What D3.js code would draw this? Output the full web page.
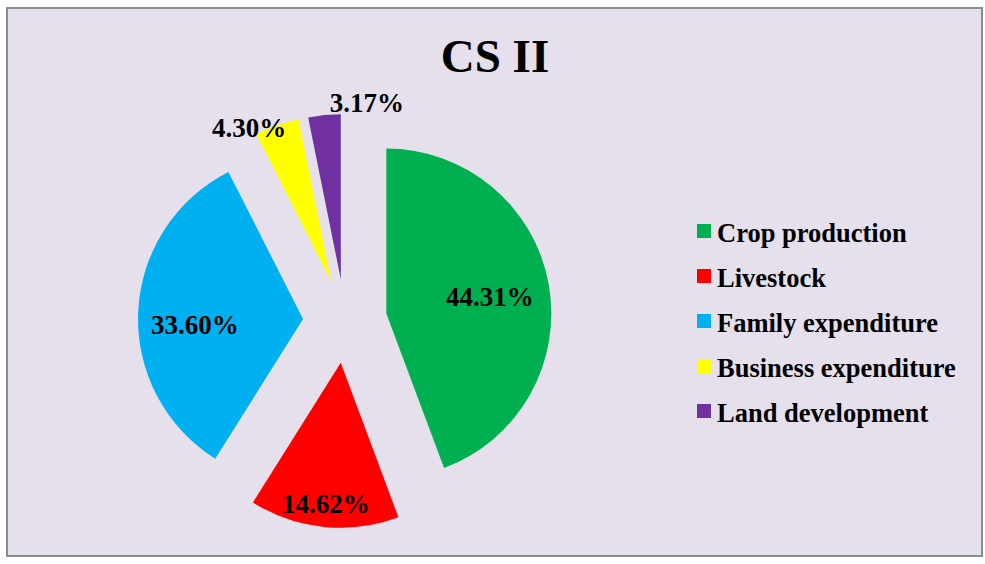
<!DOCTYPE html>
<html>
<head>
<meta charset="utf-8">
<script src="https://cdn.jsdelivr.net/npm/d3@7"></script>
<style>
  html, body { margin: 0; padding: 0; background: #ffffff; }
  svg { display: block; }
  text { font-family: "Liberation Serif", "Times New Roman", serif; font-weight: bold; fill: #000; }
</style>
</head>
<body>
<svg id="chart" width="985" height="564"></svg>
<script>
// ---- data ----
const title = "CS II";
const categories = ["Crop production", "Livestock", "Family expenditure", "Business expenditure", "Land development"];
const values = [44.31, 14.62, 33.60, 4.30, 3.17];
const labels = ["44.31%", "14.62%", "33.60%", "4.30%", "3.17%"];
const colors = ["#00B050", "#FF0000", "#00B0F0", "#FFFF00", "#7030A0"];

// ---- layout config (not data) ----
const W = 985, H = 564;
const center = [345, 321];
const radius = 165;
const explode = 42;
// label placement: radial distance factor from pie centre, angle shift in degrees
const labelRadiusFactor = [0.89, 1.11, 0.91, 1.31, 1.33];
const labelAngleShift = [0.8, 0.2, -4, -7.2, 11.4];

const svg = d3.select("#chart");

// background + border
svg.append("rect").attr("x", 0).attr("y", 0).attr("width", W).attr("height", H).attr("fill", "#ffffff");
svg.append("rect")
  .attr("x", 7).attr("y", 8).attr("width", 975).attr("height", 548)
  .attr("fill", "#E5E0EC").attr("stroke", "#8C8C8C").attr("stroke-width", 2);

// title
svg.append("text")
  .attr("x", 495).attr("y", 72)
  .attr("text-anchor", "middle")
  .attr("font-size", 47)
  .text(title);

const pie = d3.pie().sort(null).value(d => d)(values);
const arc = d3.arc().innerRadius(0).outerRadius(radius);

const g = svg.append("g").attr("transform", `translate(${center[0]},${center[1]})`);

const polar = (a, r) => [r * Math.sin(a), -r * Math.cos(a)];

g.selectAll("path.slice")
  .data(pie)
  .join("path")
  .attr("class", "slice")
  .attr("fill", (d, i) => colors[i])
  .attr("transform", d => {
    const mid = (d.startAngle + d.endAngle) / 2;
    const [dx, dy] = polar(mid, explode);
    return `translate(${dx},${dy})`;
  })
  .attr("d", arc);

g.selectAll("text.lbl")
  .data(pie)
  .join("text")
  .attr("class", "lbl")
  .attr("text-anchor", "middle")
  .attr("dy", "0.35em")
  .attr("font-size", 27)
  .attr("transform", (d, i) => {
    const mid = (d.startAngle + d.endAngle) / 2 + labelAngleShift[i] * Math.PI / 180;
    const [x, y] = polar(mid, radius * labelRadiusFactor[i]);
    return `translate(${x},${y})`;
  })
  .text((d, i) => labels[i]);

// legend
const legend = svg.append("g").attr("transform", "translate(697,224)");
const rowH = 45;
const items = legend.selectAll("g.item")
  .data(categories)
  .join("g")
  .attr("class", "item")
  .attr("transform", (d, i) => `translate(0,${i * rowH})`);
items.append("rect")
  .attr("x", 0).attr("y", 0).attr("width", 14).attr("height", 14)
  .attr("fill", (d, i) => colors[i]);
items.append("text")
  .attr("x", 20).attr("y", 18)
  .attr("font-size", 26.5)
  .text(d => d);
</script>
</body>
</html>
